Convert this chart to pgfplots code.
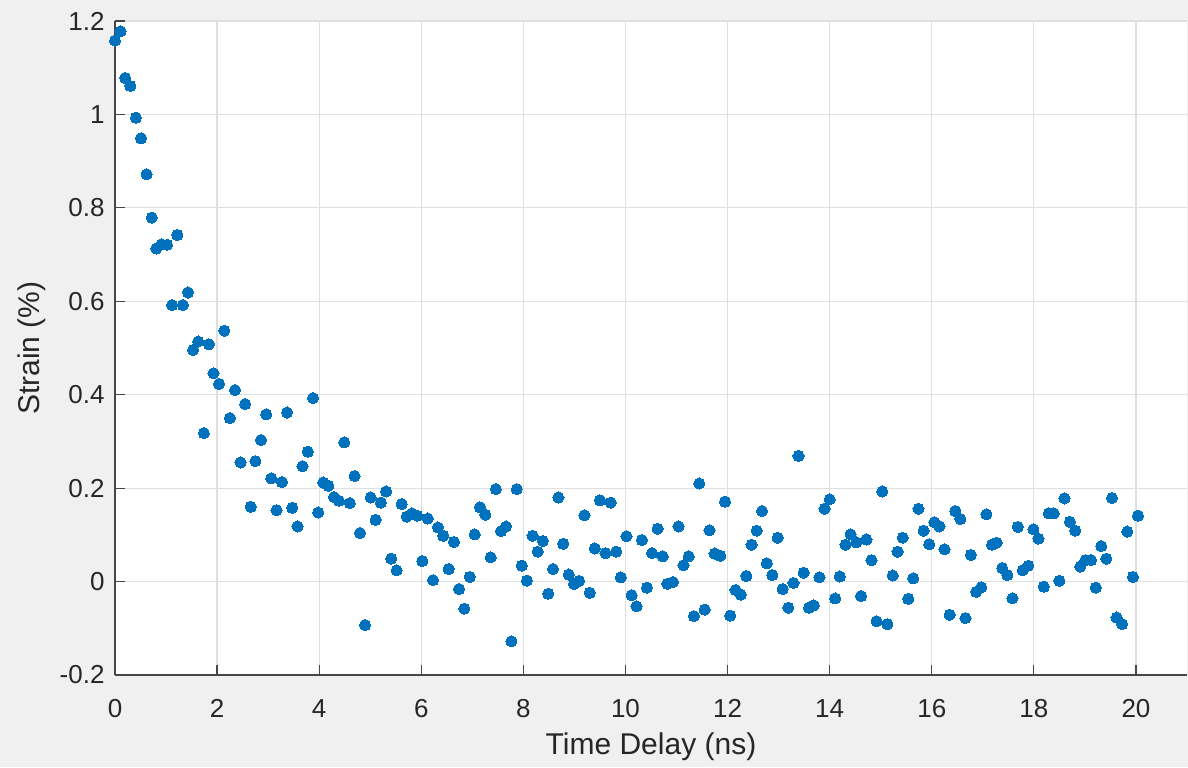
\documentclass[border=0pt]{standalone}
\usepackage{fontspec}
\setmainfont{Liberation Sans}
\usepackage{pgfplots}
\pgfplotsset{compat=1.18}
\definecolor{figbg}{HTML}{F0F0F0}
\definecolor{mblue}{HTML}{0072BD}
\definecolor{axcol}{HTML}{262626}
\definecolor{gridcol}{HTML}{DFDFDF}
\begin{document}
\begin{tikzpicture}
\fill[figbg] (-57.5pt,-46pt) rectangle (536.5pt,337.5pt);
\begin{axis}[
  scale only axis,
  width=536pt, height=327pt,
  xmin=0, xmax=21, ymin=-0.2, ymax=1.2,
  axis background/.style={fill=white},
  axis x line*=bottom, axis y line*=left,
  axis line style={draw=axcol!85, line width=0.6pt},
  xtick={0,2,4,6,8,10,12,14,16,18,20},
  xticklabels={0,2,4,6,8,10,12,14,16,18,20},
  ytick={-0.2,0,0.2,0.4,0.6,0.8,1,1.2},
  yticklabels={-0.2,0,0.2,0.4,0.6,0.8,1,1.2},
  tick align=inside,
  major tick length=5pt,
  tick style={draw=axcol!85, line width=0.6pt},
  grid=major,
  major grid style={draw=gridcol, line width=0.6pt},
  ticklabel style={font=\fontsize{13}{15}\selectfont, text=axcol},
  xticklabel style={anchor=base, yshift=-21pt},
  yticklabel style={anchor=east, xshift=-1.7pt},
  xlabel={Time Delay (ns)},
  ylabel={Strain (\%)},
  label style={font=\fontsize{15}{18}\selectfont, text=axcol},
  xlabel style={at={(axis description cs:0.5,-0.1208)}, anchor=base},
  ylabel style={at={(axis description cs:-0.0705,0.5)}, anchor=base, rotate=0},
  clip=false,
]
\addplot[only marks, mark=*, mark size=2.8pt, mark options={draw=mblue, fill=mblue, line width=0pt}] table[x=x,y=y] {
x y
0 1.158
0.11 1.178
0.20 1.078
0.30 1.061
0.41 0.993
0.51 0.949
0.62 0.872
0.72 0.779
0.81 0.713
0.91 0.722
1.02 0.721
1.12 0.592
1.22 0.742
1.33 0.592
1.43 0.619
1.53 0.496
1.63 0.514
1.74 0.318
1.84 0.508
1.93 0.446
2.04 0.423
2.14 0.537
2.25 0.350
2.35 0.410
2.46 0.255
2.55 0.380
2.66 0.160
2.75 0.258
2.86 0.303
2.96 0.358
3.06 0.221
3.165 0.153
3.27 0.213
3.37 0.362
3.47 0.158
3.576 0.118
3.674 0.247
3.778 0.278
3.88 0.393
3.98 0.148
4.08 0.212
4.18 0.205
4.29 0.181
4.386 0.173
4.49 0.298
4.60 0.168
4.694 0.226
4.80 0.104
4.90 -0.093
5.008 0.180
5.106 0.132
5.21 0.169
5.31 0.193
5.41 0.049
5.517 0.024
5.616 0.166
5.714 0.139
5.818 0.146
5.92 0.141
6.02 0.044
6.125 0.135
6.23 0.003
6.327 0.116
6.43 0.098
6.537 0.027
6.64 0.085
6.74 -0.016
6.843 -0.058
6.95 0.010
7.047 0.101
7.15 0.159
7.255 0.143
7.36 0.052
7.46 0.198
7.563 0.108
7.66 0.118
7.765 -0.128
7.87 0.198
7.97 0.034
8.07 0.002
8.18 0.098
8.28 0.064
8.38 0.087
8.485 -0.026
8.58 0.027
8.686 0.180
8.78 0.081
8.89 0.015
8.99 -0.005
9.09 0.0015
9.196 0.142
9.30 -0.024
9.40 0.071
9.50 0.174
9.608 0.061
9.71 0.169
9.817 0.064
9.91 0.009
10.02 0.097
10.12 -0.029
10.216 -0.053
10.32 0.089
10.42 -0.013
10.52 0.061
10.63 0.113
10.73 0.054
10.82 -0.005
10.93 -0.001
11.04 0.118
11.137 0.035
11.24 0.054
11.34 -0.074
11.445 0.210
11.55 -0.060
11.647 0.110
11.745 0.060
11.857 0.055
11.95 0.171
12.05 -0.073
12.157 -0.018
12.26 -0.028
12.367 0.012
12.47 0.079
12.57 0.109
12.675 0.151
12.77 0.039
12.876 0.014
12.98 0.094
13.08 -0.016
13.19 -0.056
13.29 -0.003
13.39 0.269
13.49 0.019
13.596 -0.056
13.69 -0.051
13.80 0.009
13.90 0.156
14.00 0.176
14.106 -0.036
14.20 0.011
14.31 0.079
14.41 0.101
14.52 0.084
14.615 -0.031
14.72 0.090
14.82 0.046
14.92 -0.085
15.03 0.193
15.13 -0.091
15.235 0.013
15.33 0.064
15.43 0.094
15.54 -0.037
15.635 0.007
15.74 0.156
15.84 0.109
15.95 0.080
16.05 0.127
16.15 0.118
16.25 0.069
16.35 -0.071
16.46 0.151
16.56 0.134
16.66 -0.078
16.765 0.057
16.87 -0.022
16.97 -0.012
17.07 0.144
17.18 0.079
17.27 0.083
17.38 0.029
17.48 0.014
17.58 -0.036
17.685 0.117
17.78 0.024
17.89 0.034
17.99 0.112
18.09 0.092
18.196 -0.011
18.29 0.146
18.39 0.146
18.50 0.0015
18.60 0.178
18.706 0.128
18.81 0.109
18.91 0.032
19.01 0.046
19.12 0.046
19.215 -0.013
19.32 0.076
19.42 0.049
19.53 0.179
19.62 -0.077
19.73 -0.091
19.83 0.107
19.94 0.010
20.04 0.141
};
\end{axis}
\pgfresetboundingbox
\path[use as bounding box] (-57.5pt,-46pt) rectangle (536.5pt,337.5pt);
\end{tikzpicture}
\end{document}
